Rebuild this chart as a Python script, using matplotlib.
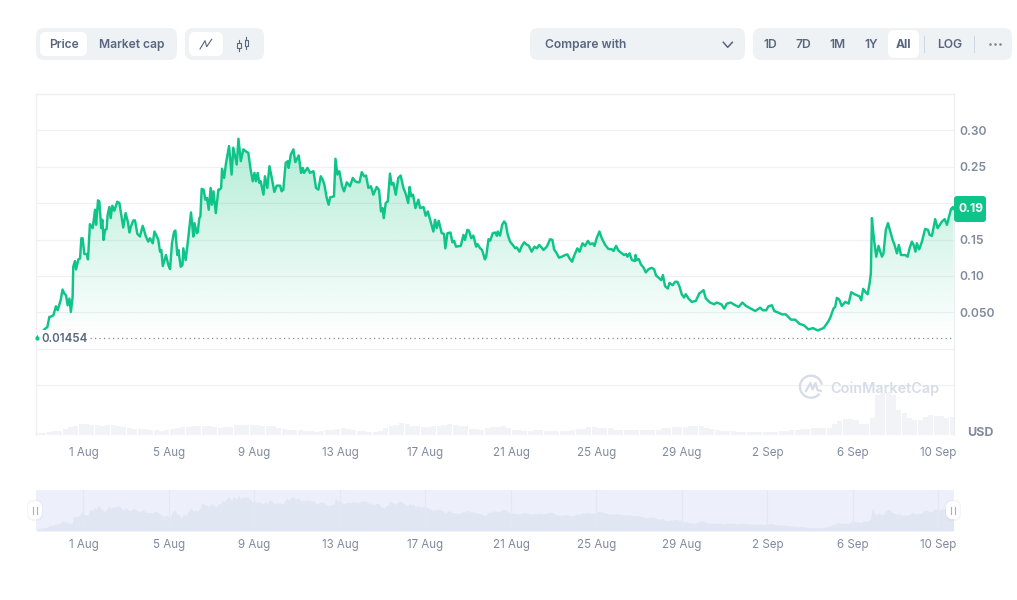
import numpy as np
import matplotlib
matplotlib.use('Agg')
import matplotlib.pyplot as plt
from matplotlib.patches import FancyBboxPatch, Arc, Rectangle

plt.rcParams['font.family'] = ['Inter', 'DejaVu Sans']

# price series, days counted from 1 Aug
price_days = [
    -2.2, -2.04, -1.8, -1.69, -1.6, -1.49, -1.41, -1.29, -1.21, -1.07, -0.98, -0.9, -0.82, -0.74, -0.66, -0.59,
    -0.51, -0.48, -0.4, -0.35, -0.24, -0.16, -0.1, -0.04, 0.04, 0.15, 0.21, 0.3, 0.43, 0.54, 0.59, 0.68, 0.74,
    0.83, 0.88, 0.94, 1.01, 1.08, 1.13, 1.21, 1.27, 1.35, 1.44, 1.58, 1.68, 1.79, 1.86, 1.97, 2.07, 2.15, 2.22,
    2.33, 2.41, 2.52, 2.64, 2.77, 2.92, 3.03, 3.11, 3.24, 3.32, 3.42, 3.5, 3.58, 3.64, 3.71, 3.86, 3.97, 4.05,
    4.14, 4.24, 4.3, 4.39, 4.44, 4.55, 4.63, 4.67, 4.78, 4.91, 5.03, 5.14, 5.19, 5.3, 5.34, 5.42, 5.47, 5.53,
    5.62, 5.7, 5.78, 5.86, 5.95, 6.01, 6.08, 6.19, 6.31, 6.36, 6.44, 6.48, 6.58, 6.67, 6.81, 6.93, 7.01, 7.17,
    7.25, 7.36, 7.48, 7.64, 7.71, 7.82, 7.92, 8.0, 8.07, 8.15, 8.23, 8.29, 8.42, 8.49, 8.6, 8.7, 8.81, 8.93,
    9.04, 9.2, 9.27, 9.35, 9.46, 9.56, 9.6, 9.7, 9.82, 9.91, 10.07, 10.18, 10.26, 10.32, 10.48, 10.6, 10.76,
    10.88, 10.99, 11.1, 11.19, 11.27, 11.38, 11.47, 11.54, 11.72, 11.79, 11.88, 11.97, 12.1, 12.19, 12.32, 12.47,
    12.6, 12.71, 12.82, 12.91, 13.02, 13.13, 13.22, 13.33, 13.45, 13.56, 13.72, 13.83, 13.92, 13.99, 14.05,
    14.14, 14.24, 14.34, 14.42, 14.5, 14.61, 14.73, 14.84, 14.97, 15.09, 15.19, 15.26, 15.33, 15.42, 15.53,
    15.67, 15.75, 15.91, 16.01, 16.11, 16.22, 16.37, 16.45, 16.53, 16.62, 16.76, 16.87, 16.93, 17.03, 17.17,
    17.26, 17.34, 17.43, 17.65, 17.78, 17.85, 17.96, 18.04, 18.14, 18.24, 18.37, 18.43, 18.56, 18.65, 18.78,
    18.84, 18.95, 19.03, 19.15, 19.26, 19.34, 19.38, 19.49, 19.59, 19.68, 19.76, 19.85, 19.96, 20.12, 20.2,
    20.27, 20.4, 20.51, 20.62, 20.71, 20.83, 20.97, 21.1, 21.21, 21.32, 21.44, 21.52, 21.68, 21.83, 21.94,
    22.02, 22.14, 22.25, 22.38, 22.53, 22.64, 22.74, 22.86, 22.97, 23.11, 23.21, 23.35, 23.47, 23.6, 23.71,
    23.83, 23.91, 24.01, 24.14, 24.25, 24.41, 24.56, 24.72, 24.8, 24.92, 25.03, 25.19, 25.29, 25.39, 25.45,
    25.55, 25.66, 25.81, 25.83, 25.89, 25.98, 26.08, 26.2, 26.31, 26.44, 26.59, 26.7, 26.79, 26.95, 27.03,
    27.11, 27.21, 27.34, 27.42, 27.45, 27.57, 27.68, 27.79, 27.89, 27.99, 28.1, 28.18, 28.31, 28.46, 28.65,
    28.81, 29.01, 29.12, 29.32, 29.51, 29.63, 29.84, 29.98, 30.1, 30.29, 30.44, 30.65, 30.83, 31.0, 31.22,
    31.43, 31.66, 31.79, 31.94, 32.05, 32.21, 32.32, 32.52, 32.68, 32.86, 33.1, 33.3, 33.5, 33.72, 33.92,
    34.13, 34.35, 34.63, 34.83, 34.94, 35.09, 35.17, 35.25, 35.36, 35.48, 35.64, 35.8, 35.92, 36.11, 36.3,
    36.39, 36.48, 36.58, 36.69, 36.78, 36.84, 36.89, 36.94, 37.0, 37.09, 37.2, 37.28, 37.36, 37.43, 37.54,
    37.64, 37.75, 37.86, 37.95, 38.06, 38.15, 38.25, 38.45, 38.56, 38.65, 38.76, 38.84, 38.93, 38.99, 39.1,
    39.23, 39.38, 39.51, 39.59, 39.7, 39.85, 39.96, 40.17, 40.29, 40.4, 40.59, 40.68, 40.71,
]
prices = [
    .0145, .0196, .0274, .0297, .0436, .0445, .0459, .0583, .0528, .0666, .0813, .0758, .0735, .0597, .0689, .0505,
    .0712, .1126, .1204, .1089, .1227, .1241, .1517, .1517, .1301, .1301, .1227, .1711, .1656, .1909, .1702, .2038, .2024,
    .1656, .1771, .1495, .1633, .1642, .1840, .1946, .1794, .1964, .1895, .2019, .2001, .1794, .1665, .1863, .1748, .1596, .1679,
    .1762, .1762, .1577, .1541, .1688, .1541, .1471, .1518, .1448, .1610, .1550, .1495, .1333, .1356, .1135, .1287, .1149, .1094,
    .1448, .1610, .1623, .1287, .1356, .1126, .1149, .1379, .1218, .1541, .1872, .1541, .1725, .1587, .1596, .1794, .1817, .2195,
    .2185, .2047, .2070, .1909, .2208, .1978, .2162, .1863, .2185, .2185, .2208, .2471, .2346, .2553, .2784, .2392, .2761, .2530,
    .2885, .2576, .2738, .2701, .2692, .2461, .2300, .2415, .2300, .2415, .2277, .2300, .2116, .2369, .2208, .2507, .2346, .2153,
    .2240, .2240, .2162, .2185, .2553, .2576, .2484, .2668, .2738, .2563, .2655, .2415, .2484, .2415, .2484, .2415, .2438,
    .2208, .2185, .2369, .2323, .2254, .2070, .1978, .2079, .2093, .2609, .2392, .2438, .2231, .2162, .2286, .2231,
    .2346, .2300, .2286, .2286, .2425, .2369, .2378, .2208, .2231, .2116, .2222, .2176, .1886, .1932, .1794,
    .2001, .2024, .2406, .2254, .2277, .2116, .2346, .2378, .2208, .2116, .2001, .2222, .2093, .2116, .1932,
    .2047, .1932, .1946, .1826, .1886, .1771, .1610, .1771, .1656, .1757, .1587, .1577, .1379, .1587, .1596,
    .1462, .1481, .1402, .1412, .1564, .1495, .1633, .1619, .1518, .1554, .1402, .1439, .1379, .1356, .1227,
    .1264, .1504, .1485, .1587, .1596, .1550, .1610, .1554, .1702, .1748, .1715, .1564, .1471, .1412, .1379,
    .1393, .1333, .1412, .1462, .1435, .1416, .1333, .1402, .1379, .1425, .1388, .1356, .1402, .1504, .1494,
    .1365, .1310, .1250, .1264, .1287, .1296, .1241, .1195, .1287, .1379, .1333, .1448, .1412, .1481, .1435,
    .1448, .1412, .1518, .1610, .1518, .1425, .1370, .1366, .1343, .1412, .1347, .1310, .1287, .1301, .1264,
    .1310, .1218, .1204, .1287, .1218, .1232, .1158, .1117, .1048, .1094, .1112, .1089, .1006, .0965, .0942,
    .1011, .0859, .0827, .0905, .0896, .0873, .0919, .0919, .0850, .0749, .0703, .0749, .0689, .0643, .0657,
    .0758, .0804, .0689, .0634, .0611, .0634, .0611, .0551, .0620, .0634, .0606, .0574, .0634, .0587, .0551,
    .0518, .0564, .0528, .0528, .0583, .0597, .0518, .0495, .0472, .0472, .0399, .0399, .0343, .0320, .0265,
    .0284, .0251, .0284, .0366, .0426, .0551, .0574, .0698, .0675, .0587, .0643, .0620, .0776, .0744, .0721,
    .0666, .0822, .0781, .0749, .0896, .1034, .1794, .1633, .1471, .1264, .1412, .1333, .1264, .1310, .1633,
    .1725, .1610, .1494, .1425, .1310, .1425, .1287, .1287, .1264, .1379, .1471, .1425, .1333, .1448, .1365,
    .1471, .1646, .1632, .1563, .1550, .1780, .1656, .1748, .1780, .1701, .1918, .1946, .1918,
]
# volume bars, one every 6 hours
volume = [
    2, 2, 2.7, 4, 4, 6, 8, 9.3, 10.7, 11, 10, 9.7, 9.3, 9.7, 10.3, 9, 7.7, 7.3, 6.3, 6, 6, 5.3, 4.7, 3.7, 5.3, 6, 7.3,
    8.3, 8, 8.7, 8.7, 9, 8.7, 7.7, 7.3, 8, 8.3, 9.7, 10.3, 10.3, 9.7, 9.7, 9.3, 9.3, 8.7, 6.7, 5.7, 5.3, 5.3, 5.3, 4.3,
    4, 2.7, 3.7, 4.7, 5.3, 6, 6.7, 5.7,
    5, 4.3, 4, 3, 3, 4, 6.7, 9, 10, 12, 10.7, 8.7, 9, 7.7, 8, 9.3, 9.3, 10, 11.3, 10, 9, 8.7, 6.3, 5.7, 5, 6.7, 8.3, 8.3,
    8.7, 7.3, 5.3, 5, 4, 4, 5, 5, 4.3, 4, 4, 4, 4, 5.3, 6, 6.3, 7.7, 7.7, 7, 6.7, 6.7, 5, 5.3, 5, 5, 5, 5, 5, 5, 5.3, 6.7, 7.3,
    8, 8.3, 8.3, 9, 9, 9, 7.3, 6, 5, 4.3, 4, 4, 3.3, 3.3, 3, 2.7, 2.7, 2.7, 3, 3, 3.7, 4, 4.7, 5, 6, 6, 7.3, 6.7, 6.7, 7,
    10.7, 14, 15.7, 16, 14.7, 11.3, 11, 16.7, 40, 41.7, 43.3, 40, 25, 21.7, 17.3, 15, 15, 18.3, 20, 19.3, 19, 17.3, 18.3, 19.3,
]
base_price = 0.01454
last_price = '0.19'
tick_days = [0, 4, 8, 12, 16, 20, 24, 28, 32, 36, 40]
tick_labels = ['1 Aug', '5 Aug', '9 Aug', '13 Aug', '17 Aug', '21 Aug', '25 Aug', '29 Aug', '2 Sep', '6 Sep', '10 Sep']
y_grid = [-0.05, 0, 0.05, 0.10, 0.15, 0.20, 0.25, 0.30]
y_labels = ['', '', '0.050', '0.10', '0.15', '', '0.25', '0.30']

GREEN = '#0fc488'
BTN = '#eff2f5'
TXT = '#58667e'
AXIS_TXT = '#808a9d'
W, H = 1017, 600
XMIN, XMAX = -2.241, 40.73


def px_axes(fig, left, top, right, bottom, **kw):
    return fig.add_axes([left / W, 1 - bottom / H, (right - left) / W, (bottom - top) / H], **kw)


fig = plt.figure(figsize=(W / 100, H / 100), dpi=100, facecolor='white')

# volume sits behind the price panel, 1 unit = 1 px
ax_vol = px_axes(fig, 35.6, 93.6, 954, 435)
vol_days = XMIN + 0.018 + 0.25 * np.arange(len(volume))
ax_vol.bar(vol_days, volume, width=0.235, color='#f1f3f6', align='edge', lw=0)
ax_vol.set_xlim(XMIN, XMAX)
ax_vol.set_ylim(0, 341.4)
ax_vol.axis('off')

# main price panel
ax = px_axes(fig, 35.6, 93.6, 954, 435)
ax.patch.set_alpha(0)
grad = np.zeros((256, 2, 4))
grad[..., 0] = 22 / 255
grad[..., 1] = 199 / 255
grad[..., 2] = 132 / 255
grad[..., 3] = np.linspace(0.33, 0, 256)[:, None]
im = ax.imshow(grad, extent=[XMIN, XMAX, base_price, 0.29], origin='upper', aspect='auto', zorder=1)
poly = ax.fill_between(price_days, prices, base_price, facecolor='none', edgecolor='none')
im.set_clip_path(poly.get_paths()[0], transform=ax.transData)
for g in y_grid:
    ax.axhline(g, color='#6b7a90', alpha=0.1, lw=0.9, zorder=2)
ax.axhline(base_price, color=AXIS_TXT, lw=0.9, linestyle=(0, (1, 2.6)), zorder=3)
ax.plot(price_days, prices, color=GREEN, lw=1.75, solid_joinstyle='round', zorder=4)
ax.set_xlim(XMIN, XMAX)
ax.set_ylim(-0.1185, 0.3504)
ax.set_xticks(tick_days)
ax.set_xticklabels(tick_labels)
ax.set_yticks(y_grid)
ax.set_yticklabels(y_labels)
ax.yaxis.tick_right()
ax.tick_params(axis='x', length=0, pad=8.5, labelsize=8.3, labelcolor=AXIS_TXT)
ax.tick_params(axis='y', length=0, pad=4.2, labelsize=8.7, labelcolor=AXIS_TXT)
for t in ax.get_yticklabels():
    t.set_fontweight('semibold')
for s in ['left', 'right', 'top']:
    ax.spines[s].set_color('#eceef1')
    ax.spines[s].set_linewidth(0.9)
ax.spines['bottom'].set_visible(False)

# range navigator under the chart
nav = px_axes(fig, 35.6, 490, 954, 531, facecolor='#edf0fb')
nav.fill_between(price_days, prices, 0, color='#e1e6f3', lw=0)
for d in tick_days:
    nav.axvline(d, color='#e4e8f5', lw=0.8)
nav.set_xlim(XMIN, XMAX)
nav.set_ylim(0, 0.328)
nav.set_yticks([])
nav.set_xticks(tick_days)
nav.set_xticklabels(tick_labels)
nav.tick_params(axis='x', length=0, pad=5.5, labelsize=8.3, labelcolor=AXIS_TXT)
for s in nav.spines.values():
    s.set_visible(False)

# overlay in pixel coordinates for the page widgets
ui = fig.add_axes([0, 0, 1, 1])
ui.set_xlim(0, W)
ui.set_ylim(H, 0)
ui.axis('off')
ui.patch.set_alpha(0)


def box(x0, y0, x1, y1, color, r=7, z=1, alpha=1):
    ui.add_patch(FancyBboxPatch((x0 + r, y0 + r), x1 - x0 - 2 * r, y1 - y0 - 2 * r,
                                boxstyle=f'round,pad={r},rounding_size={r}', fc=color, ec='none', alpha=alpha, zorder=z))


def label(x, y, s, color=TXT, size=8.7, weight='semibold', ha='center', va='center', z=5):
    ui.text(x, y, s, color=color, fontsize=size, fontweight=weight, ha=ha, va=va, zorder=z)


BUTTON_BASE = 48.4
box(36, 28, 177, 60, BTN, 8)
box(40, 32, 87, 56, 'white', 6, 2)
label(64, BUTTON_BASE, 'Price', va='baseline')
label(131.6, BUTTON_BASE, 'Market cap', va='baseline')
box(185, 28, 264, 60, BTN, 8)
box(189, 32, 223, 56, 'white', 6, 2)
ui.plot([200, 205, 206.7, 211.7], [49, 40.7, 46.7, 39.3], color=TXT, lw=0.8, zorder=5)
for cx, top, bottom in [(239, 43, 48), (246.3, 40, 46)]:
    ui.plot([cx, cx], [top - 3, bottom + 3], color=TXT, lw=0.8, zorder=5)
    ui.add_patch(Rectangle((cx - 1.8, top), 3.6, bottom - top, fc=BTN, ec=TXT, lw=0.8, zorder=6))
box(530, 28, 745, 60, BTN, 8)
label(545, BUTTON_BASE, 'Compare with', ha='left', va='baseline')
ui.plot([723.3, 727.7, 732.3], [42.3, 47.3, 42.3], color=TXT, lw=1.1, zorder=5)
box(753, 28, 1012, 60, BTN, 8)
box(888, 30, 919, 58, 'white', 6, 2)
for x, s in [(770, '1D'), (803.3, '7D'), (837.7, '1M'), (871, '1Y'), (949.7, 'LOG')]:
    label(x, BUTTON_BASE, s, va='baseline')
label(903.7, BUTTON_BASE, 'All', weight='bold', va='baseline')
for x in [924.3, 974.3]:
    ui.plot([x, x], [36, 52], color='#cfd6e4', lw=0.8, zorder=5)
for x in [990, 995, 1000]:
    ui.plot([x], [44], 'o', color=AXIS_TXT, ms=0.9, zorder=5)

# baseline marker and label
box(38, 330, 88, 347, 'white', 4, 3)
ui.plot([37], [338], 'o', color=GREEN, ms=2, zorder=5)
label(64.5, 338.5, '0.01454', size=8.3)

# current price tag
box(954, 196, 986, 222, GREEN, 3, 3)
label(971, 209, last_price, color='white', size=8.7, weight='bold')
label(980, 432.5, 'USD', color=AXIS_TXT, size=9, weight='bold')

# watermark
WM = '#d6dce8'
ui.add_patch(Arc((811, 386.7), 22, 22, theta1=40, theta2=350, ec=WM, lw=1.7, zorder=5))
ui.plot([806, 810.5, 812.5, 815.5, 817.5, 821], [391, 383, 389.5, 383, 390, 391], color=WM, lw=1.6,
        solid_joinstyle='round', zorder=5)
label(830, 388.5, 'CoinMarketCap', color=WM, size=10.4, weight='semibold', ha='left')

# navigator handles
for cx in [35, 953]:
    box(cx - 8, 500, cx + 8, 521, '#c8cfe0', 7, 3, alpha=0.2)
    box(cx - 7, 501, cx + 7, 519, 'white', 6.5, 4)
    for dx in [-1.7, 1.7]:
        ui.plot([cx + dx, cx + dx], [506.5, 513.5], color='#a6b0c3', lw=0.8, zorder=5)

fig.savefig('out.png', dpi=100)
